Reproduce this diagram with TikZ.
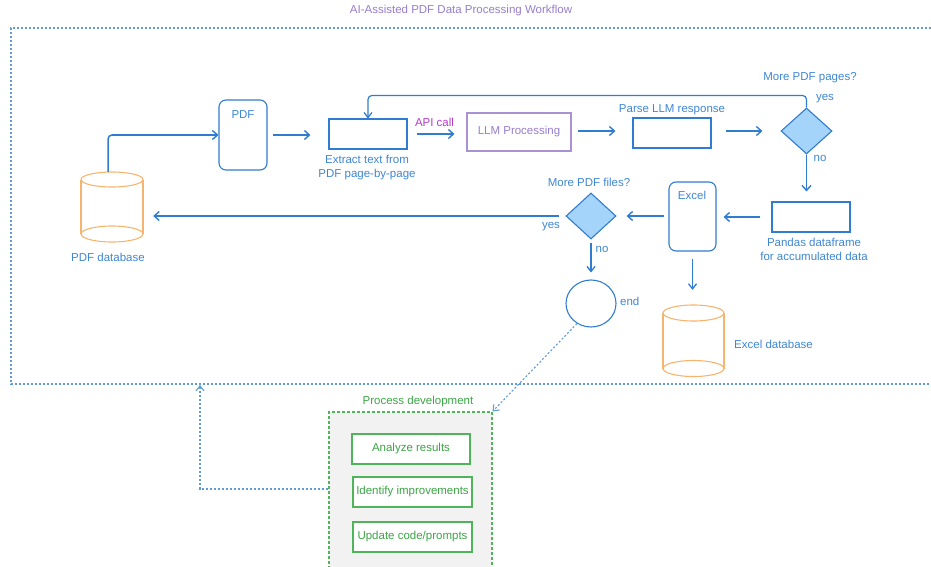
\documentclass[tikz,border=0pt]{standalone}
\usepackage{fontspec}
\setmainfont{Liberation Sans}
\usetikzlibrary{shapes.geometric,arrows.meta}
\definecolor{cblue}{RGB}{48,124,208}
\definecolor{tblue}{RGB}{62,134,212}
\definecolor{fblue}{RGB}{164,212,250}
\definecolor{frame}{RGB}{95,155,218}
\definecolor{corange}{RGB}{247,180,110}
\definecolor{cpurple}{RGB}{170,145,210}
\definecolor{tpurple}{RGB}{150,125,205}
\definecolor{capi}{RGB}{180,60,200}
\definecolor{cgreen}{RGB}{80,180,90}
\definecolor{tgreen}{RGB}{60,165,70}
\definecolor{cgray}{RGB}{242,242,242}
\tikzset{
  lbl/.style={font=\fontsize{11.5}{14}\selectfont, text=tblue, inner sep=0pt, align=center},
  box/.style={draw=cblue, line width=1.1pt, inner sep=0pt},
  rbox/.style={box, rounded corners=7pt},
  dia/.style={diamond, draw=cblue, fill=fblue, line width=1.1pt, inner sep=0pt, minimum width=51pt, minimum height=46pt},
  arr/.style={draw=cblue, line width=1.5pt, -{Straight Barb[length=5pt,width=9pt,line width=1.4pt]}},
  thinarr/.style={draw=cblue, line width=1pt, -{Straight Barb[length=5pt,width=8pt]}},
  cyl/.style={draw=corange, line width=1.1pt},
  gbox/.style={draw=cgreen, line width=1.2pt, fill=white, minimum width=119pt, minimum height=30pt, inner sep=0pt, font=\fontsize{11.5}{14}\selectfont, text=tgreen},
  dline/.style={draw=frame, line width=1.3pt, dash pattern=on 2pt off 2pt},
}
\begin{document}
\begin{tikzpicture}[x=1pt,y=-1pt]
\useasboundingbox (0,0) rectangle (931,567);
% outer frame
\draw[dline] (931,28) -- (11,28) -- (11,384) -- (931,384);
\node[lbl, text=tpurple] (title) at (461,11) {AI-Assisted PDF Data Processing Workflow};
% PDF database cylinder
\node[minimum width=62pt, minimum height=70pt, inner sep=0pt] (pdfdb) at (112,207) {};
\draw[cyl] (112,179.5) ellipse [x radius=31, y radius=7.5];
\draw[cyl] (81,179.5) -- (81,234) (143,179.5) -- (143,234);
\draw[cyl] (112,234) ellipse [x radius=31, y radius=8];
\node[lbl] (pdfdblbl) at (108,257) {PDF database};
% PDF box
\node[rbox, minimum width=48pt, minimum height=70pt] (pdf) at (243,135) {};
\node[lbl] (pdflbl) at (243,115) {PDF};
% Extract
\node[box, minimum width=78pt, minimum height=30pt] (extract) at (368,134) {};
\node[lbl] (extractlbl) at (367,168) {Extract text from\\PDF page-by-page};
% API call
\node[lbl, text=capi] (api) at (434.5,122) {API call};
% LLM
\node[draw=cpurple, line width=1.1pt, minimum width=104pt, minimum height=38pt, inner sep=0pt, font=\fontsize{11.5}{14}\selectfont, text=tpurple] (llm) at (519,132) {LLM Processing};
% Parse
\node[box, minimum width=78pt, minimum height=30pt] (parse) at (672,133) {};
\node[lbl] (parselbl) at (672,110) {Parse LLM response};
% Diamond 1
\node[dia] (d1) at (806.5,131) {};
\node[lbl] (d1lbl) at (810,78) {More PDF pages?};
\node[lbl] (yes1) at (825,99) {yes};
\node[lbl] (no1) at (820,158) {no};
% Pandas
\node[box, minimum width=78pt, minimum height=30pt] (pandas) at (811,217) {};
\node[lbl] (pandaslbl) at (814,249) {Pandas dataframe\\for accumulated data};
% Excel box
\node[rbox, minimum width=47pt, minimum height=69pt] (excel) at (692.5,216.5) {};
\node[lbl] (excellbl) at (692,195) {Excel};
% Diamond 2
\node[dia, minimum width=50pt] (d2) at (591,216) {};
\node[lbl] (d2lbl) at (589,182) {More PDF files?};
\node[lbl] (yes2) at (551,227) {yes};
\node[lbl] (no2) at (602,249) {no};
% end
\node[ellipse, draw=cblue, line width=1.1pt, minimum width=50pt, minimum height=47pt, inner sep=0pt] (endc) at (591,303.5) {};
\node[lbl, anchor=west] (endlbl) at (620,301) {end};
% Excel database
\node[minimum width=61pt, minimum height=72pt, inner sep=0pt] (exceldb) at (693.5,341) {};
\draw[cyl] (693.5,313) ellipse [x radius=30.5, y radius=8];
\draw[cyl] (663,313) -- (663,368.5) (724,313) -- (724,368.5);
\draw[cyl] (693.5,368.5) ellipse [x radius=30.5, y radius=8];
\node[lbl, anchor=west] (exceldblbl) at (734,344) {Excel database};
% Process development
\node[draw=cgreen, fill=cgray, line width=1.1pt, dash pattern=on 3pt off 2pt, minimum width=163pt, minimum height=160pt, inner sep=0pt] (procdev) at (410.5,492) {};
\node[lbl, text=tgreen] (proclbl) at (418,402) {Process development};
\node[gbox, minimum width=118pt] (analyze) at (411,449) {Analyze results};
\node[gbox] (identify) at (412.5,492) {Identify improvements};
\node[gbox] (update) at (412.5,537) {Update code/prompts};
\coordinate (fb) at (200,385);
% connectors
\draw[arr, rounded corners=4pt] ([xshift=-4pt]pdfdb.north) |- (pdf.west);
\draw[arr, shorten <=5pt, shorten >=18pt] (pdf.east) -- (pdf.east -| extract.west);
\draw[arr, shorten <=9pt, shorten >=12pt] (extract.east) -- (extract.east -| llm.west);
\draw[arr, shorten <=6pt, shorten >=17pt] (llm.east |- 0,131) -- (parse.west |- 0,131);
\draw[arr, shorten <=14pt, shorten >=18pt] (parse.east |- d1) -- (d1.west);
\draw[thinarr, line width=1.2pt, rounded corners=4pt] (d1.north) -- ++(0,-12) -| (extract.north);
\draw[arr, shorten >=10pt] (d1.south) -- (d1.south |- pandas.north);
\draw[arr, shorten <=11pt, shorten >=7pt] (pandas.west) -- (pandas.west -| excel.east);
\draw[arr, shorten <=4pt, shorten >=10pt] (excel.west |- d2) -- (d2.east);
\draw[arr, shorten <=6pt, shorten >=10pt] (d2.west) -- (d2.west -| pdfdb.east);
\draw[thinarr, line width=1.3pt, shorten <=3pt, shorten >=7pt] (d2.south) -- (endc.north);
\draw[thinarr, line width=1.3pt, shorten <=7pt, shorten >=15pt] (excel.south) -- (excel.south |- exceldb.north);
\draw[dline, line width=1.1pt, -{Straight Barb[length=5pt,width=8pt]}] (endc.235) -- (procdev.north east);
\draw[dline, line width=1.1pt, -{Straight Barb[length=5pt,width=8pt]}] (procdev.west |- 0,489) -| (fb);
\end{tikzpicture}
\end{document}
